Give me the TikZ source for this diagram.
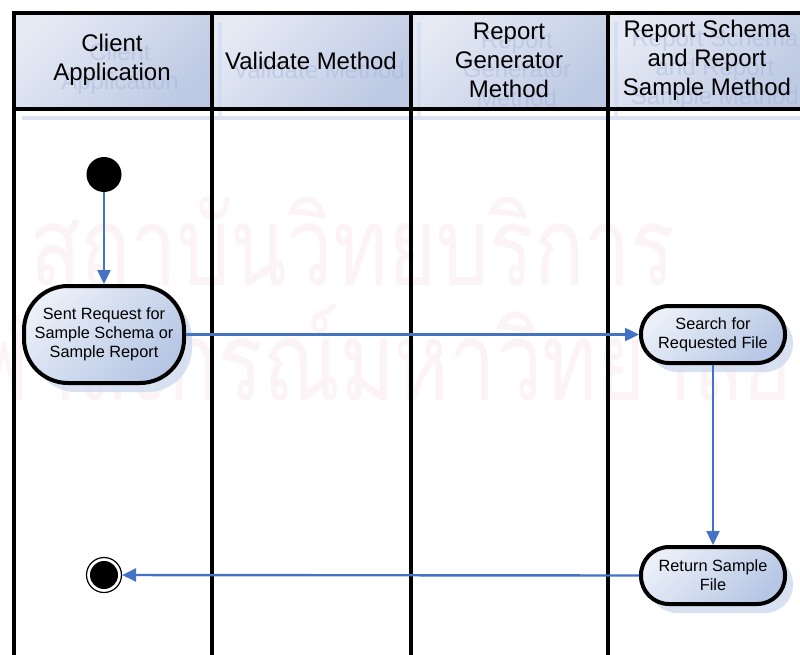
\documentclass[tikz,border=0pt]{standalone}
\usepackage{fontspec}
\usepackage{graphicx}
\setmainfont{Liberation Sans}
\newfontfamily\thaifont[Script=Thai]{Loma}
\usetikzlibrary{arrows.meta,shadows}
\definecolor{flow}{RGB}{68,114,196}
\definecolor{hdrA}{RGB}{228,233,244}
\definecolor{hdrB}{RGB}{190,202,228}
\definecolor{actA}{RGB}{234,239,248}
\definecolor{actB}{RGB}{182,198,228}
\definecolor{shad}{RGB}{204,216,238}
\definecolor{ghost}{RGB}{160,178,218}
\definecolor{wmark}{RGB}{251,243,246}
\begin{document}
\begin{tikzpicture}[x=1pt,y=-1pt,
  lane/.style={line width=4pt, line cap=rect},
  hdrcell/.style={top color=hdrA, bottom color=hdrB, shading angle=45},
  hdrtext/.style={font=\fontsize{24}{29}\selectfont, align=center, inner sep=0pt},
  ghosttext/.style={hdrtext, text=ghost, opacity=0.4},
  activity/.style={draw=black, line width=4pt, align=center,
     top color=actA, bottom color=actB, shading angle=45,
     font=\fontsize{16.3}{19}\selectfont, inner sep=2pt,
     drop shadow={shadow xshift=8pt, shadow yshift=-9pt, fill=shad, opacity=0.75}},
  flowarrow/.style={draw=flow, line width=2.4pt, -{Triangle[length=14pt,width=13pt]}},
  wmtext/.style={inner sep=0pt, anchor=base west}
]
\useasboundingbox (0,0) rectangle (800,655);
\clip (0,0) rectangle (800,655);
\fill[white] (0,0) rectangle (800,655);

% watermark
\node[wmtext] (wm1) at (30,285) {\color{wmark}\scalebox{0.754}[1]{\thaifont\fontsize{110}{110}\selectfont สถาบันวิทยบริการ}};
\node[wmtext] (wm2) at (-75,400) {\color{wmark}\scalebox{0.754}[1]{\thaifont\fontsize{110}{110}\selectfont จุฬาลงกรณ์มหาวิทยาลัย}};

% header cells
\shade[hdrcell] (13.5,13.5) rectangle (211.5,109);
\shade[hdrcell] (211.5,13.5) rectangle (410.5,109);
\shade[hdrcell] (410.5,13.5) rectangle (608,109);
\shade[hdrcell] (608,13.5) rectangle (806,109);

% header shadow
\begin{scope}[shift={(8,9)}]
  \fill[shad, opacity=0.7] (13.5,107) rectangle (806,111);
  \foreach \xx in {211.5,410.5,608} {\fill[shad, opacity=0.5] (\xx-2,13.5) rectangle (\xx+2,107);}
  \node[ghosttext] (g1) at (112,60) {Client\\Application};
  \node[ghosttext] (g2) at (311,61) {Validate Method};
  \node[ghosttext] (g3) at (509,60) {Report\\Generator\\Method};
  \node[ghosttext] (g4) at (707,60) {Report Schema\\and Report\\Sample Method};
\end{scope}

% header texts
\node[hdrtext] (h1) at (112,60) {Client\\Application};
\node[hdrtext] (h2) at (311,61) {Validate Method};
\node[hdrtext] (h3) at (509,60) {Report\\Generator\\Method};
\node[hdrtext] (h4) at (707,60) {Report Schema\\and Report\\Sample Method};

% lanes
\draw[lane] (13.5,13.5) -- (806,13.5);
\draw[lane] (13.5,109) -- (806,109);
\foreach \xx in {13.5,211.5,410.5,608,806} {\draw[lane] (\xx,13.5) -- (\xx,670);}

% nodes
\node[circle, fill=black, minimum size=35pt, inner sep=0pt] (start) at (104,174.5) {};
\node[activity, minimum width=160pt, minimum height=97pt, rounded corners=44pt] (act1) at (104,334.5)
  {Sent Request for\\Sample Schema or\\Sample Report};
\node[activity, minimum width=144pt, minimum height=57pt, rounded corners=28pt] (search) at (713,334.5)
  {Search for\\Requested File};
\node[activity, minimum width=144pt, minimum height=57pt, rounded corners=28pt] (ret) at (713,575.5)
  {Return Sample\\File};
\node[circle, draw=black, line width=1.2pt, fill=white, minimum size=35pt, inner sep=0pt] (end) at (104,575) {};
\fill[black] (end.center) circle (14pt);

% connectors
\draw[flowarrow] (start) -- (act1);
\draw[flowarrow] (act1.east) -- (search.west);
\draw[flowarrow] (search) -- (ret);
\draw[flowarrow] (ret.west) -- (end);
\end{tikzpicture}
\end{document}
